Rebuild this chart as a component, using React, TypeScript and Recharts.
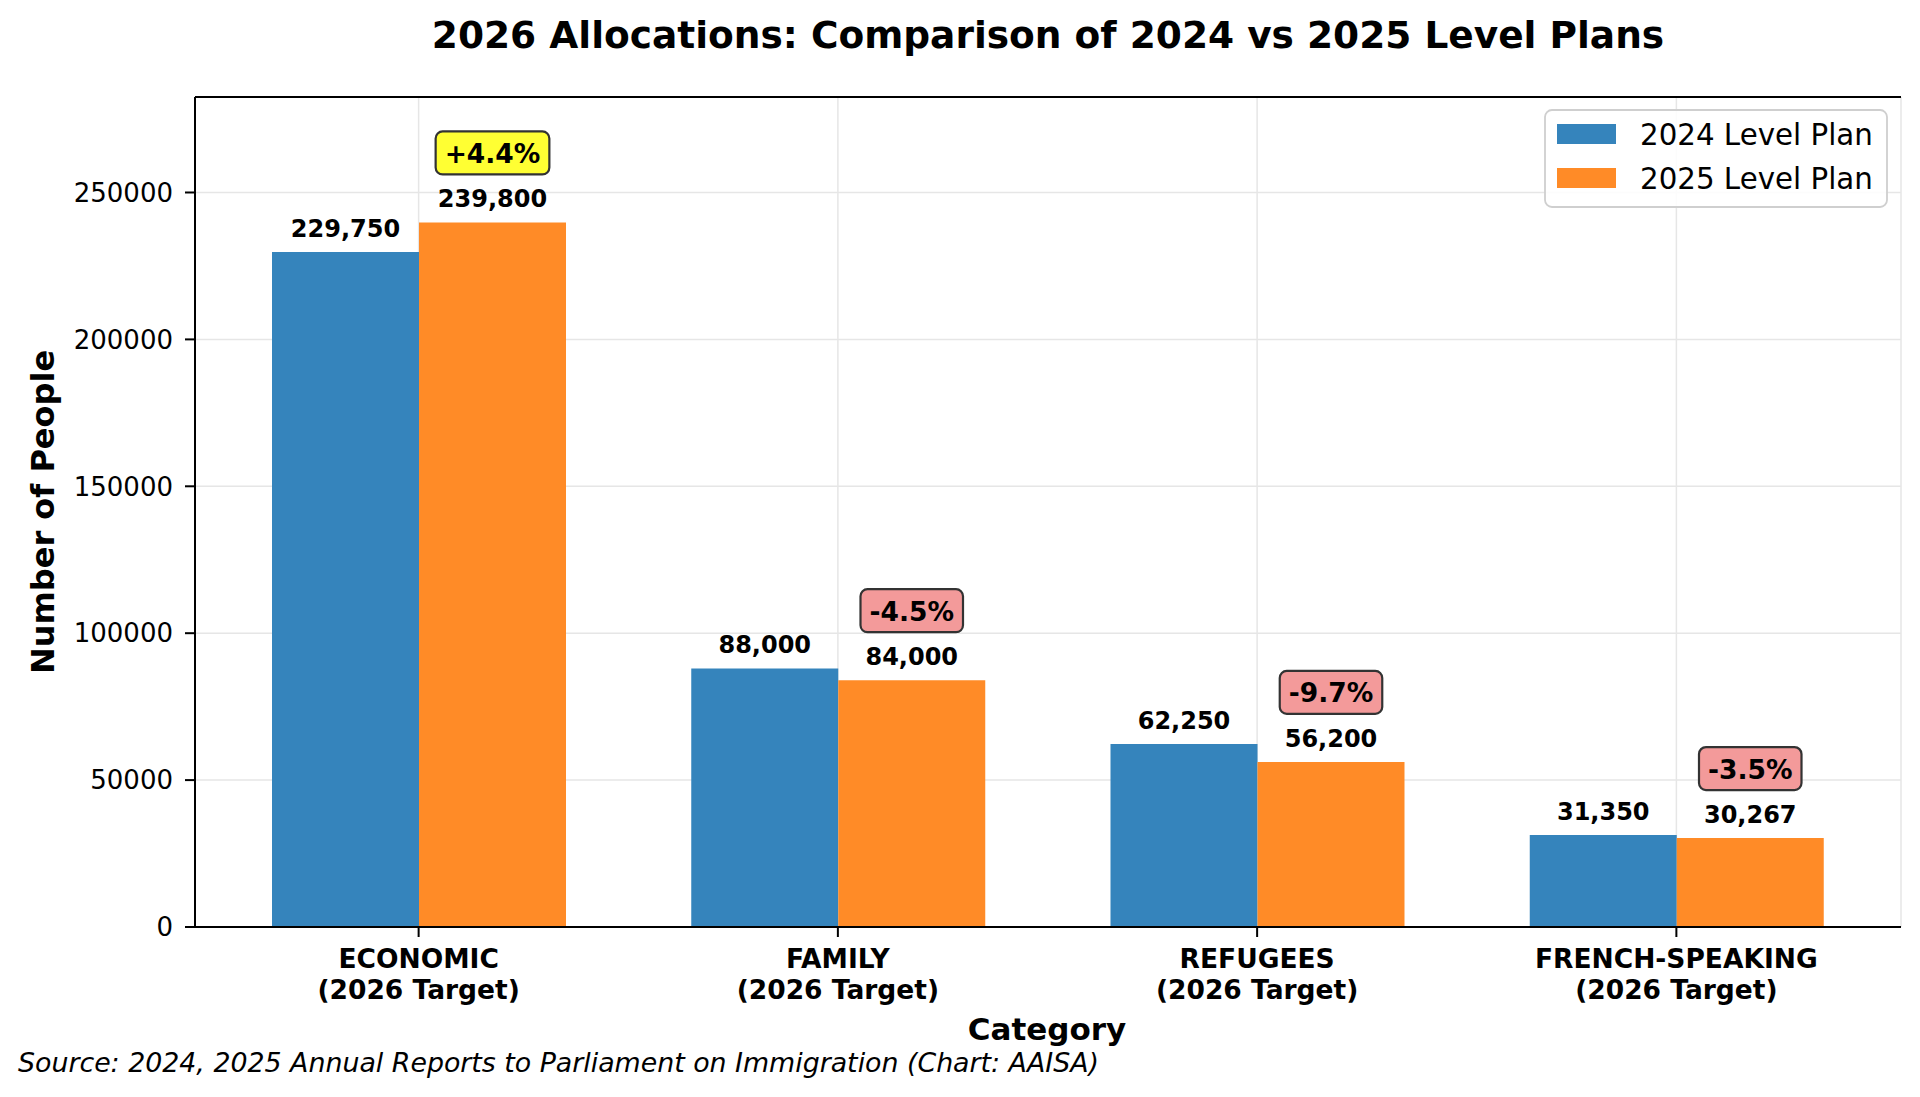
import React from "react";
import {
  BarChart,
  Bar,
  XAxis,
  YAxis,
  CartesianGrid,
  ReferenceLine,
  LabelList,
} from "recharts";

// values
const categories = ["ECONOMIC", "FAMILY", "REFUGEES", "FRENCH-SPEAKING"];
const targetNote = "(2026 Target)";
const plan2024 = [229750, 88000, 62250, 31350];
const plan2025 = [239800, 84000, 56200, 30267];
const changeLabels = ["+4.4%", "-4.5%", "-9.7%", "-3.5%"];
const yTicks = [0, 50000, 100000, 150000, 200000, 250000];
const seriesNames = ["2024 Level Plan", "2025 Level Plan"];

const FONT = "'DejaVu Sans', sans-serif";
const BLUE = "#3584bc";
const ORANGE = "#ff8b27";

const data = categories.map((name, i) => ({
  name,
  p2024: plan2024[i],
  p2025: plan2025[i],
  change: changeLabels[i],
}));

// rough DejaVu Sans Bold advance widths for the percent badges
const BOLD_W: Record<string, number> = { "+": 0.838, "-": 0.415, ".": 0.38, "%": 1.002 };
const badgeTextWidth = (s: string, size: number) =>
  s.split("").reduce((acc, ch) => acc + (BOLD_W[ch] ?? 0.696), 0) * size;

const CategoryTick = (props: any) => {
  const { x, y, payload } = props;
  return (
    <g>
      <text x={x} y={y + 29} textAnchor="middle" fontFamily={FONT} fontWeight="bold" fontSize={26.5} fill="#000">
        {payload.value}
      </text>
      <text x={x} y={y + 60} textAnchor="middle" fontFamily={FONT} fontWeight="bold" fontSize={26.5} fill="#000">
        {targetNote}
      </text>
    </g>
  );
};

const ValueLabel = (props: any) => {
  const { x, y, width, value } = props;
  return (
    <text x={x + width / 2} y={y - 15} textAnchor="middle" fontFamily={FONT} fontWeight="bold" fontSize={24} fill="#000">
      {Number(value).toLocaleString("en-US")}
    </text>
  );
};

const ChangeBadge = (props: any) => {
  const { x, y, width, value } = props;
  const cx = x + width / 2;
  const cy = y - 69.5;
  const w = badgeTextWidth(String(value), 26.5) + 18;
  const h = 43;
  const positive = String(value).startsWith("+");
  return (
    <g>
      <rect
        x={cx - w / 2}
        y={cy - h / 2}
        width={w}
        height={h}
        rx={7}
        fill={positive ? "#ffff33" : "#f39a9a"}
        stroke="#333"
        strokeWidth={2.2}
      />
      <text x={cx} y={cy + 10} textAnchor="middle" fontFamily={FONT} fontWeight="bold" fontSize={26.5} fill="#000">
        {value}
      </text>
    </g>
  );
};

export default function App() {
  return (
    <div
      style={{
        position: "absolute",
        left: 0,
        top: 0,
        width: 1920,
        height: 1097,
        background: "#fff",
      }}
    >
      <BarChart
        width={1920}
        height={1097}
        data={data}
        margin={{ top: 97, right: 19, bottom: 0, left: 95 }}
        barGap={0}
      >
        <CartesianGrid stroke="#e6e6e6" strokeWidth={1.5} />
        <XAxis
          dataKey="name"
          padding={{ left: 14, right: 15 }}
          tick={<CategoryTick />}
          tickSize={10}
          axisLine={{ stroke: "#000", strokeWidth: 2 }}
          tickLine={{ stroke: "#000", strokeWidth: 2 }}
          interval={0}
          height={170}
        />
        <YAxis
          width={100}
          domain={[0, 282500]}
          ticks={yTicks}
          allowDataOverflow
          tickSize={10}
          tickMargin={12}
          tick={{ fill: "#000", fontSize: 26, fontFamily: FONT }}
          axisLine={{ stroke: "#000", strokeWidth: 2 }}
          tickLine={{ stroke: "#000", strokeWidth: 2 }}
        />
        <YAxis
          yAxisId="right"
          orientation="right"
          width={0}
          domain={[0, 1]}
          tick={false}
          tickLine={false}
          axisLine={{ stroke: "#000", strokeWidth: 2 }}
        />
        <ReferenceLine y={282500} stroke="#000" strokeWidth={2} />
        <Bar dataKey="p2024" name={seriesNames[0]} fill={BLUE} barSize={147} isAnimationActive={false}>
          <LabelList dataKey="p2024" content={<ValueLabel />} />
        </Bar>
        <Bar dataKey="p2025" name={seriesNames[1]} fill={ORANGE} barSize={147} isAnimationActive={false}>
          <LabelList dataKey="p2025" content={<ValueLabel />} />
          <LabelList dataKey="change" content={<ChangeBadge />} />
        </Bar>
      </BarChart>

      {/* titles, legend and source note */}
      <svg
        width={1920}
        height={1097}
        style={{ position: "absolute", left: 0, top: 0, pointerEvents: "none" }}
      >
        <text x={1048} y={48} textAnchor="middle" fontFamily={FONT} fontWeight="bold" fontSize={37.5} fill="#000">
          2026 Allocations: Comparison of 2024 vs 2025 Level Plans
        </text>
        <text
          transform="translate(54,512) rotate(-90)"
          textAnchor="middle"
          fontFamily={FONT}
          fontWeight="bold"
          fontSize={32}
          fill="#000"
        >
          Number of People
        </text>
        <text x={1047} y={1040} textAnchor="middle" fontFamily={FONT} fontWeight="bold" fontSize={31} fill="#000">
          Category
        </text>
        <text x={18} y={1072} fontFamily={FONT} fontStyle="italic" fontSize={26.8} fill="#000">
          Source: 2024, 2025 Annual Reports to Parliament on Immigration (Chart: AAISA)
        </text>

        <rect x={1545} y={110} width={342} height={97} rx={7} fill="#fff" fillOpacity={0.85} stroke="#cfcfcf" strokeWidth={1.8} />
        {seriesNames.map((s, i) => (
          <g key={s}>
            <rect x={1557} y={124 + i * 44} width={59} height={20} fill={i === 0 ? BLUE : ORANGE} />
            <text x={1640} y={145 + i * 44} fontFamily={FONT} fontSize={29.3} fill="#000">
              {s}
            </text>
          </g>
        ))}
      </svg>
    </div>
  );
}
